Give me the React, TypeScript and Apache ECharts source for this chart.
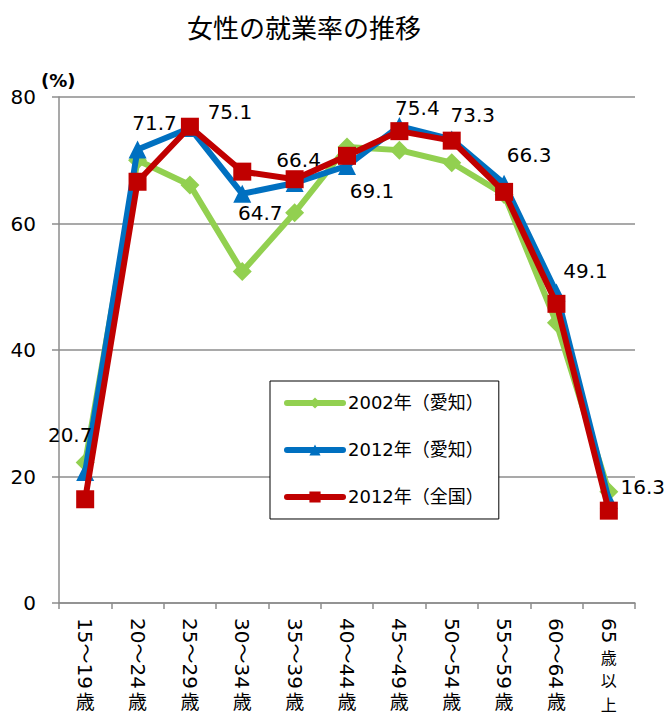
import React, { useEffect, useRef } from "react";
import * as echarts from "echarts";

const categories = ["15〜19歳", "20〜24歳", "25〜29歳", "30〜34歳", "35〜39歳", "40〜44歳", "45〜49歳", "50〜54歳", "55〜59歳", "60〜64歳", "65歳以上"];
const aichi2002 = [22.2, 70.0, 66.1, 52.4, 61.7, 72.1, 71.6, 69.6, 64.6, 44.3, 17.6];
const aichi2012 = [20.7, 71.7, 75.1, 64.7, 66.4, 69.1, 75.4, 73.3, 66.3, 49.1, 16.3];
const zenkoku2012 = [16.4, 66.6, 75.3, 68.2, 67.0, 70.7, 74.6, 73.1, 65.0, 47.3, 14.6];
const yTicks = { min: 0, max: 80, interval: 20 };
const seriesNames = ["2002年（愛知）", "2012年（愛知）", "2012年（全国）"];
const titleText = "女性の就業率の推移";
const unitText = "(%)";

// label placement (style only)
const labelOffsets = [[-15, -37], [17, -26], [40, -16], [18, 19], [4, -23], [25, 25], [18, -18], [21, -24], [25, -29], [29, -21], [34, -13]];

const FONT = "'DejaVu Sans', 'Noto Sans CJK JP', sans-serif";
const CJK = "'Noto Sans CJK JP', sans-serif";
const GRAY = "#8c8c8c";
const COLORS = ["#92D050", "#0070C0", "#C00000"];

const digitPart = (s: string) => s.replace(/歳.*$/, "");
const kanjiPart = (s: string) => s.slice(digitPart(s).length);

export default function App() {
  const ref = useRef<HTMLDivElement>(null);
  useEffect(() => {
    if (!ref.current) return;
    const chart = echarts.init(ref.current, undefined, { renderer: "svg" });
    const hiddenAxis = {
      type: "category",
      data: categories,
      position: "bottom",
      axisLine: { show: false },
      axisTick: { show: false },
      splitLine: { show: false },
    };
    chart.setOption({
      animation: false,
      backgroundColor: "#fff",
      title: {
        text: titleText,
        left: 182,
        top: 8,
        textStyle: { fontSize: 26, fontWeight: "normal", color: "#000", fontFamily: CJK },
      },
      graphic: [
        {
          type: "text",
          x: 41,
          y: 80,
          style: { text: unitText, fontSize: 18, fontWeight: "bold", fill: "#000", fontFamily: FONT, textVerticalAlign: "middle" },
        },
      ],
      legend: {
        orient: "vertical",
        left: 270,
        top: 381,
        padding: [13, 15, 13, 14],
        itemGap: 29,
        itemWidth: 56,
        itemHeight: 14,
        backgroundColor: "#fff",
        borderColor: "#000",
        borderWidth: 1,
        borderRadius: 0,
        textStyle: { fontSize: 18, color: "#000", fontFamily: FONT },
        data: seriesNames.map((n, i) => ({
          name: n,
          lineStyle: { width: 6, color: COLORS[i], cap: "round" },
        })),
      },
      grid: { left: 59, right: 29, top: 97, bottom: 113, containLabel: false, outerBoundsMode: "none" },
      xAxis: [
        {
          type: "category",
          data: categories,
          position: "bottom",
          axisLine: { show: true, lineStyle: { color: GRAY, width: 1.5 } },
          axisTick: { show: true, length: 6, lineStyle: { color: GRAY, width: 1.5 } },
          splitLine: { show: false },
          axisLabel: {
            interval: 0,
            rotate: -90,
            margin: 15,
            fontSize: 20,
            color: "#000",
            fontFamily: FONT,
            formatter: (v: string) => digitPart(v),
          },
        },
        {
          ...hiddenAxis,
          axisLabel: {
            interval: 0,
            margin: 88,
            fontSize: 19,
            color: "#000",
            fontFamily: CJK,
            formatter: (v: string) => (kanjiPart(v).length === 1 ? kanjiPart(v) : ""),
          },
        },
        {
          ...hiddenAxis,
          axisLabel: {
            interval: 0,
            margin: 42,
            fontSize: 16,
            lineHeight: 23.5,
            color: "#000",
            fontFamily: CJK,
            formatter: (v: string) => (kanjiPart(v).length > 1 ? kanjiPart(v).split("").join("\n") : ""),
          },
        },
      ],
      yAxis: {
        type: "value",
        min: yTicks.min,
        max: yTicks.max,
        interval: yTicks.interval,
        axisLine: { show: true, lineStyle: { color: GRAY, width: 1.5 } },
        axisTick: { show: true, length: 7, lineStyle: { color: GRAY, width: 1.5 } },
        splitLine: { show: true, lineStyle: { color: GRAY, width: 1.5 } },
        axisLabel: { fontSize: 20, color: "#000", fontFamily: FONT, margin: 23 },
      },
      series: [
        {
          name: seriesNames[0],
          type: "line",
          data: aichi2002,
          symbol: "diamond",
          symbolSize: 19,
          lineStyle: { color: COLORS[0], width: 6 },
          itemStyle: { color: COLORS[0] },
          z: 2,
        },
        {
          name: seriesNames[1],
          type: "line",
          data: aichi2012.map((v, i) => ({
            value: v,
            label: {
              show: true,
              position: "inside",
              offset: labelOffsets[i],
              formatter: v.toFixed(1),
              fontSize: 20,
              color: "#000",
              fontFamily: FONT,
            },
          })),
          symbol: "triangle",
          symbolSize: 18,
          lineStyle: { color: COLORS[1], width: 6 },
          itemStyle: { color: COLORS[1] },
          z: 3,
        },
        {
          name: seriesNames[2],
          type: "line",
          data: zenkoku2012,
          symbol: "rect",
          symbolSize: 18,
          lineStyle: { color: COLORS[2], width: 6 },
          itemStyle: { color: COLORS[2] },
          z: 4,
        },
      ],
    });
    return () => chart.dispose();
  }, []);
  return <div ref={ref} style={{ position: "absolute", left: 0, top: 0, width: 664, height: 716 }} />;
}
